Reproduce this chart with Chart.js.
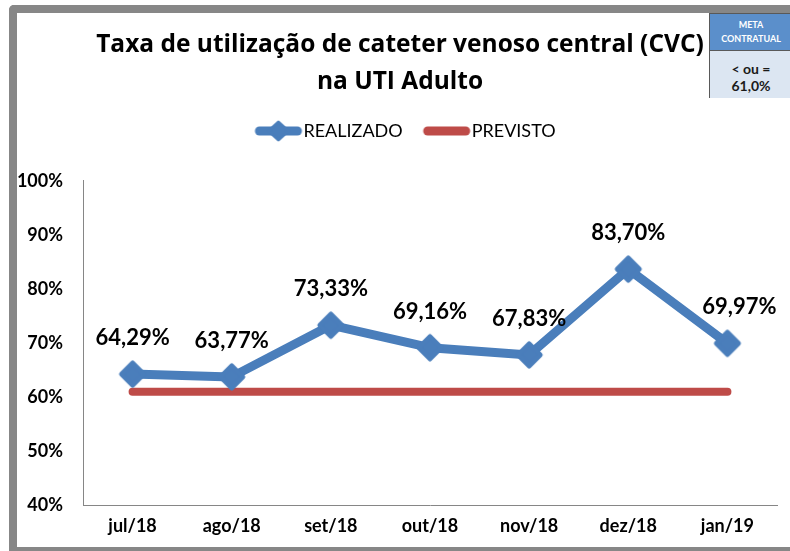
<!DOCTYPE html>
<html>
<head>
<meta charset="utf-8">
<script src="https://cdn.jsdelivr.net/npm/chart.js@4.4.1/dist/chart.umd.min.js"></script>
<style>
  html, body { margin: 0; padding: 0; background: #fff; }
  #wrap { position: relative; width: 790px; height: 551px; overflow: hidden; }
  #c { position: absolute; left: 0; top: 0; }
  #frame { position: absolute; left: 9px; top: 5px; width: 800px; height: 600px;
           border-left: 8px solid #878787; border-top: 8px solid #878787;
           border-top-left-radius: 5px; box-sizing: border-box; pointer-events: none; }
  #bottom { position: absolute; left: 9px; top: 547px; width: 790px; height: 4px; background: #878787; }
  #meta { position: absolute; left: 709px; top: 13px; width: 84px; height: 85px;
          border: 1px solid #595959; box-sizing: border-box; font-family: Lato, "Liberation Sans", sans-serif; font-weight: bold; text-align: center; }
  #meta .h { background: #5b8fcb; color: #fff; font-size: 9px; line-height: 14px; height: 37px; padding-top: 4px; box-sizing: border-box; border-bottom: 1px solid #595959; }
  #meta .b { background: #dce6f2; color: #1a1a1a; font-size: 14px; line-height: 17px; height: 47px; padding-top: 9px; box-sizing: border-box; }
</style>
</head>
<body>
<div id="wrap">
  <canvas id="c" width="790" height="551"></canvas>
  <div id="frame"></div>
  <div id="bottom"></div>
  <div id="meta">
    <div class="h">META<br>CONTRATUAL</div>
    <div class="b">&lt; ou =<br>61,0%</div>
  </div>
</div>
<script>
const categories = ['jul/18', 'ago/18', 'set/18', 'out/18', 'nov/18', 'dez/18', 'jan/19'];
const realizado = [64.29, 63.77, 73.33, 69.16, 67.83, 83.70, 69.97];
const previsto = [61, 61, 61, 61, 61, 61, 61];
const titleLines = ['Taxa de utilização de cateter venoso central (CVC)', 'na UTI Adulto'];
const yMin = 40, yMax = 100, yStep = 10;

const BLUE = '#4a7ebb';
const RED = '#be4b48';
const FONT = 'Lato, "Liberation Sans", sans-serif';
const TITLE_FONT = '"Open Sans", Lato, sans-serif';

function diamondPath(x, cx, cy, hw, hh) {
  x.beginPath(); x.moveTo(cx, cy - hh); x.lineTo(cx + hw, cy); x.lineTo(cx, cy + hh); x.lineTo(cx - hw, cy); x.closePath();
}
function legendIcon(color, diamond) {
  const c = document.createElement('canvas');
  c.width = 68; c.height = 24;
  const x = c.getContext('2d');
  x.strokeStyle = color; x.lineWidth = 9; x.lineCap = 'round';
  x.beginPath(); x.moveTo(24, 12); x.lineTo(62, 12); x.stroke();
  if (diamond) {
    x.fillStyle = color; x.lineWidth = 3; x.lineJoin = 'round';
    diamondPath(x, 43, 12, 10, 9); x.fill(); x.stroke();
  }
  return c;
}
function markerIcon(color) {
  const c = document.createElement('canvas');
  c.width = 30; c.height = 30;
  const x = c.getContext('2d');
  x.fillStyle = color; x.strokeStyle = color; x.lineWidth = 5; x.lineJoin = 'round';
  diamondPath(x, 15, 15, 11, 11); x.fill(); x.stroke();
  return c;
}
const icons = [legendIcon(BLUE, true), legendIcon(RED, false)];
const marker = markerIcon(BLUE);

const dataLabels = {
  id: 'dataLabels',
  afterDatasetsDraw(chart) {
    const meta = chart.getDatasetMeta(0);
    const ctx = chart.ctx;
    ctx.save();
    ctx.font = 'bold 22px ' + FONT;
    ctx.fillStyle = '#000';
    ctx.textAlign = 'center';
    ctx.textBaseline = 'middle';
    meta.data.forEach((p, i) => {
      const v = realizado[i];
      const txt = v.toFixed(2).replace('.', ',') + '%';
      const dx = (i === meta.data.length - 1) ? 12 : 0;
      ctx.fillText(txt, p.x + dx, p.y - 36);
    });
    ctx.restore();
  }
};

new Chart(document.getElementById('c'), {
  type: 'line',
  data: {
    labels: categories,
    datasets: [
      { label: 'REALIZADO', data: realizado, borderColor: BLUE, backgroundColor: BLUE,
        borderWidth: 9, pointStyle: marker, pointRadius: 13, pointHoverRadius: 13,
        pointBorderWidth: 0, pointBorderColor: BLUE, pointBackgroundColor: BLUE,
        borderJoinStyle: 'round', borderCapStyle: 'round', tension: 0 },
      { label: 'PREVISTO', data: previsto, borderColor: RED, backgroundColor: RED,
        borderWidth: 8, pointRadius: 0, borderCapStyle: 'round', tension: 0 }
    ]
  },
  options: {
    responsive: false,
    animation: false,
    layout: { padding: { left: 17, top: 13, right: 7, bottom: 4 } },
    plugins: {
      tooltip: { enabled: false },
      title: {
        display: true, text: titleLines, color: '#000',
        font: { family: TITLE_FONT, size: 24.5, weight: 'bold', lineHeight: 1.51 },
        padding: { top: 13.5, bottom: 11.5 }
      },
      subtitle: {
        display: true, text: '', weight: 500,
        font: { size: 1, lineHeight: 1 },
        padding: { top: 30, bottom: 0 }
      },
      legend: {
        display: true,
        labels: {
          color: '#000', font: { family: FONT, size: 18 },
          usePointStyle: true, pointStyleWidth: 50, padding: 10,
          generateLabels(chart) {
            return chart.data.datasets.map((ds, i) => ({
              text: ds.label, pointStyle: icons[i], fillStyle: ds.borderColor,
              strokeStyle: ds.borderColor, lineWidth: 0, datasetIndex: i, hidden: false
            }));
          }
        }
      }
    },
    scales: {
      x: {
        offset: true,
        grid: { display: false, drawTicks: false },
        border: { display: true, color: '#868686', width: 1 },
        ticks: { color: '#000', font: { family: FONT, size: 18, weight: 'bold' }, padding: 10 }
      },
      y: {
        min: yMin, max: yMax,
        afterFit(s) { s.width = 66; },
        grid: { display: false, drawTicks: false },
        border: { display: true, color: '#868686', width: 1 },
        ticks: { stepSize: yStep, color: '#000', font: { family: FONT, size: 18, weight: 'bold' }, padding: 20,
                 callback: v => v + '%' }
      }
    }
  },
  plugins: [dataLabels]
});
</script>
</body>
</html>
